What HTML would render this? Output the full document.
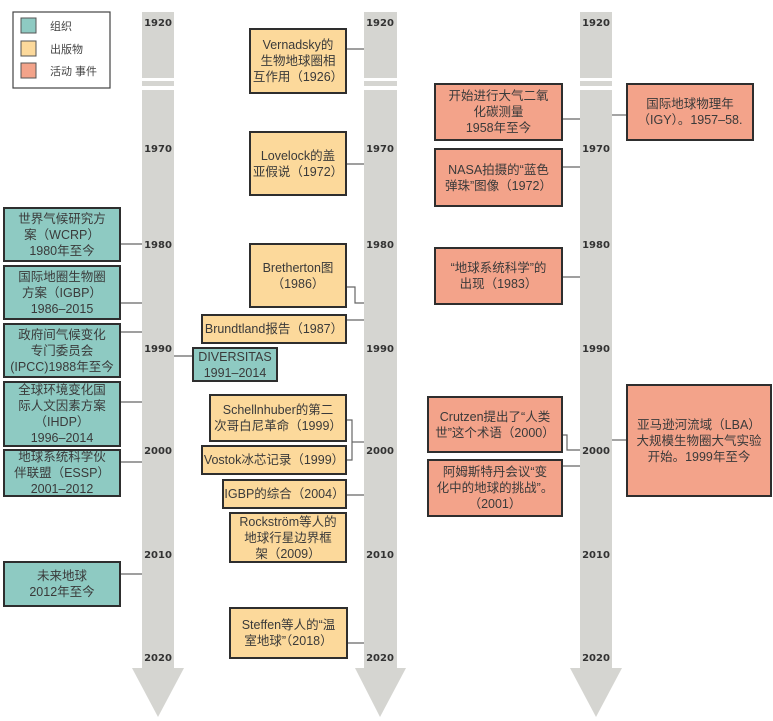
<!DOCTYPE html>
<html><head><meta charset="utf-8"><style>
body{margin:0;width:773px;height:721px;background:#fff;position:relative;overflow:hidden;font-family:"Liberation Sans","Noto Sans CJK SC",sans-serif;}
.b{position:absolute;box-sizing:border-box;border:2px solid #2e2e2e;display:flex;align-items:center;justify-content:center;text-align:center;font-size:12.5px;line-height:16px;color:#3a3a3a;}
.t{background:#8ecac2}.y{background:#fcd99b}.s{background:#f3a38a}
.yr{position:absolute;font-size:10px;font-weight:bold;color:#333;width:40px;text-align:center;font-family:"DejaVu Sans","Liberation Sans",sans-serif;}
</style></head><body>
<svg width="773" height="721" style="position:absolute;left:0;top:0">
<g fill="#d5d5d1">
<rect x="142" y="12" width="32" height="656"/><polygon points="132,668 184,668 158,717"/>
<rect x="364" y="12" width="33" height="656"/><polygon points="355,668 406,668 380,717"/>
<rect x="580" y="12" width="32" height="656"/><polygon points="570,668 622,668 596,717"/>
</g>
<g fill="#fff">
<rect x="140" y="78" width="36" height="3"/><rect x="140" y="86" width="36" height="4"/>
<rect x="362" y="78" width="37" height="3"/><rect x="362" y="86" width="37" height="4"/>
<rect x="578" y="78" width="36" height="3"/><rect x="578" y="86" width="36" height="4"/>
</g>
<g stroke="#666" stroke-width="1.2" fill="none">
<line x1="121" y1="244" x2="142" y2="244"/><line x1="121" y1="303" x2="142" y2="303"/>
<line x1="121" y1="332" x2="142" y2="332"/><line x1="121" y1="402" x2="142" y2="402"/>
<line x1="121" y1="462" x2="142" y2="462"/><line x1="121" y1="574" x2="142" y2="574"/>
<line x1="174" y1="356" x2="192" y2="356"/>
<line x1="347" y1="49" x2="364" y2="49"/><line x1="347" y1="164" x2="364" y2="164"/>
<polyline points="347,287 355,287 355,303 364,303"/>
<line x1="347" y1="320" x2="364" y2="320"/>
<polyline points="347,420 352,420 352,460 347,460"/><line x1="352" y1="442" x2="364" y2="442"/>
<line x1="347" y1="495" x2="364" y2="495"/><line x1="347" y1="643" x2="364" y2="643"/>
<line x1="563" y1="119" x2="580" y2="119"/><line x1="563" y1="167" x2="580" y2="167"/>
<line x1="563" y1="277" x2="580" y2="277"/><line x1="612" y1="115" x2="626" y2="115"/>
<polyline points="563,435 567,435 567,450 580,450"/><line x1="563" y1="466" x2="580" y2="466"/>
<line x1="612" y1="440" x2="626" y2="440"/>
</g>
<rect x="13" y="12" width="97" height="76" fill="#fff" stroke="#444" stroke-width="1.2"/>
<rect x="21" y="18" width="15" height="15" fill="#8ecac2" stroke="#555"/>
<rect x="21" y="41" width="15" height="15" fill="#fcd99b" stroke="#555"/>
<rect x="21" y="63" width="15" height="15" fill="#f3a38a" stroke="#555"/>
<g font-size="11" fill="#444" font-family="Liberation Sans,Noto Sans CJK SC,sans-serif">
<text x="50" y="30">组织</text><text x="50" y="53">出版物</text><text x="50" y="75">活动 事件</text></g>
</svg>
<div class="yr" style="left:138px;top:18px">1920</div><div class="yr" style="left:360px;top:18px">1920</div><div class="yr" style="left:576px;top:18px">1920</div>
<div class="yr" style="left:138px;top:144px">1970</div><div class="yr" style="left:360px;top:144px">1970</div><div class="yr" style="left:576px;top:144px">1970</div>
<div class="yr" style="left:138px;top:240px">1980</div><div class="yr" style="left:360px;top:240px">1980</div><div class="yr" style="left:576px;top:240px">1980</div>
<div class="yr" style="left:138px;top:344px">1990</div><div class="yr" style="left:360px;top:344px">1990</div><div class="yr" style="left:576px;top:344px">1990</div>
<div class="yr" style="left:138px;top:446px">2000</div><div class="yr" style="left:360px;top:446px">2000</div><div class="yr" style="left:576px;top:446px">2000</div>
<div class="yr" style="left:138px;top:550px">2010</div><div class="yr" style="left:360px;top:550px">2010</div><div class="yr" style="left:576px;top:550px">2010</div>
<div class="yr" style="left:138px;top:653px">2020</div><div class="yr" style="left:360px;top:653px">2020</div><div class="yr" style="left:576px;top:653px">2020</div>

<div class="b t" style="left:3px;top:207px;width:118px;height:55px">世界气候研究方<br>案（WCRP）<br>1980年至今</div>
<div class="b t" style="left:3px;top:265px;width:118px;height:55px">国际地圈生物圈<br>方案（IGBP）<br>1986–2015</div>
<div class="b t" style="left:3px;top:323px;width:118px;height:55px">政府间气候变化<br>专门委员会<br>(IPCC)1988年至今</div>
<div class="b t" style="left:3px;top:381px;width:118px;height:66px">全球环境变化国<br>际人文因素方案<br>（IHDP）<br>1996–2014</div>
<div class="b t" style="left:3px;top:449px;width:118px;height:48px">地球系统科学伙<br>伴联盟（ESSP）<br>2001–2012</div>
<div class="b t" style="left:3px;top:561px;width:118px;height:46px">未来地球<br>2012年至今</div>
<div class="b t" style="left:192px;top:347px;width:86px;height:35px">DIVERSITAS<br>1991–2014</div>

<div class="b y" style="left:249px;top:28px;width:98px;height:66px">Vernadsky的<br>生物地球圈相<br>互作用（1926）</div>
<div class="b y" style="left:249px;top:131px;width:98px;height:65px">Lovelock的盖<br>亚假说（1972）</div>
<div class="b y" style="left:249px;top:243px;width:98px;height:65px">Bretherton图<br>（1986）</div>
<div class="b y" style="left:201px;top:314px;width:146px;height:30px">Brundtland报告（1987）</div>
<div class="b y" style="left:209px;top:394px;width:138px;height:48px">Schellnhuber的第二<br>次哥白尼革命（1999）</div>
<div class="b y" style="left:201px;top:445px;width:146px;height:30px">Vostok冰芯记录（1999）</div>
<div class="b y" style="left:222px;top:479px;width:125px;height:30px">IGBP的综合（2004）</div>
<div class="b y" style="left:229px;top:512px;width:118px;height:51px">Rockström等人的<br>地球行星边界框<br>架（2009）</div>
<div class="b y" style="left:229px;top:607px;width:119px;height:52px">Steffen等人的“温<br>室地球”（2018）</div>

<div class="b s" style="left:434px;top:83px;width:129px;height:58px">开始进行大气二氧<br>化碳测量<br>1958年至今</div>
<div class="b s" style="left:434px;top:148px;width:129px;height:59px">NASA拍摄的“蓝色<br>弹珠”图像（1972）</div>
<div class="b s" style="left:434px;top:247px;width:129px;height:58px">“地球系统科学”的<br>出现（1983）</div>
<div class="b s" style="left:626px;top:83px;width:128px;height:58px">国际地球物理年<br>（IGY）。1957–58.</div>
<div class="b s" style="left:427px;top:396px;width:136px;height:57px">Crutzen提出了“人类<br>世”这个术语（2000）</div>
<div class="b s" style="left:427px;top:459px;width:136px;height:58px">阿姆斯特丹会议“变<br>化中的地球的挑战”。<br>（2001）</div>
<div class="b s" style="left:626px;top:384px;width:146px;height:113px">亚马逊河流域（LBA）<br>大规模生物圈大气实验<br>开始。1999年至今</div>
</body></html>
